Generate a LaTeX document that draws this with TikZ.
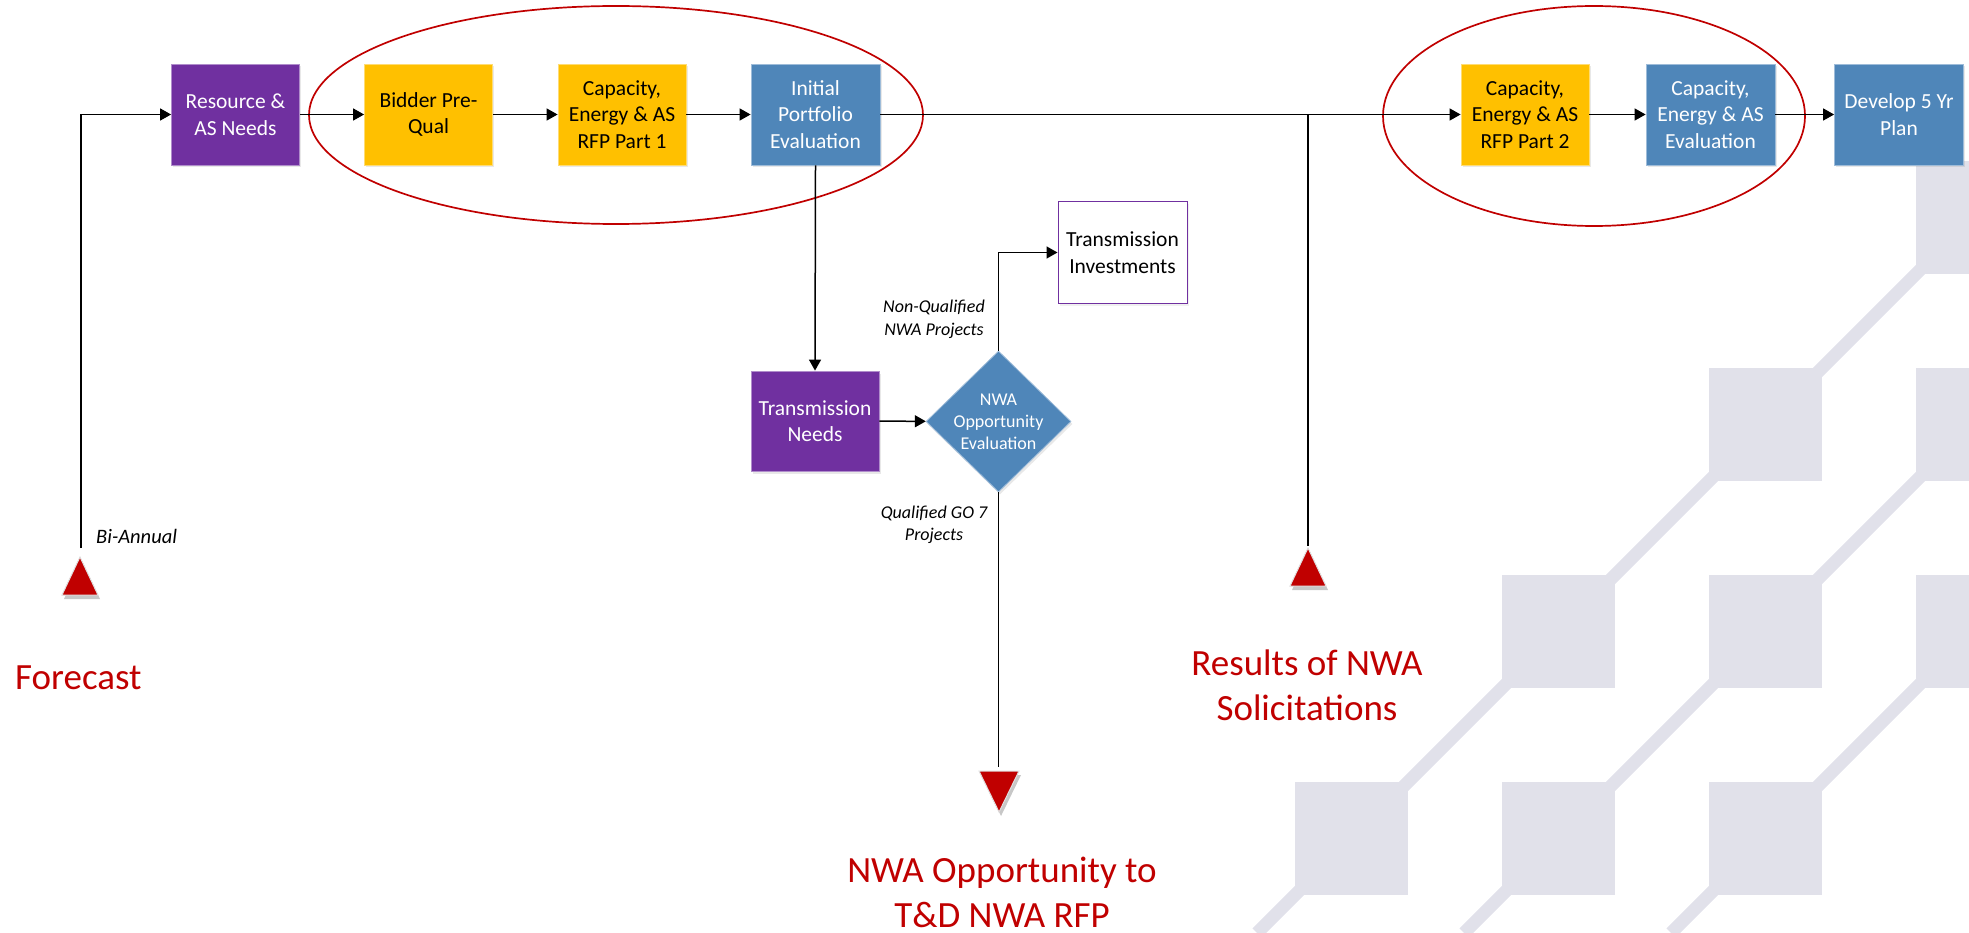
\documentclass[tikz,border=0pt]{standalone}
\usepackage{fontspec}
\setmainfont{Carlito}
\usetikzlibrary{arrows.meta,shapes.geometric,shadows}
\definecolor{cpurple}{HTML}{7030A0}
\definecolor{cyellow}{HTML}{FFC000}
\definecolor{cblue}{HTML}{4F86B9}
\definecolor{cred}{HTML}{C00000}
\definecolor{cbg}{HTML}{E1E1EA}
\begin{document}
\begin{tikzpicture}[x=1pt,y=-1pt,
  box/.style={rectangle, minimum width=128pt, minimum height=101pt, inner sep=0pt,
    align=center, font=\fontsize{21.5}{26.5}\selectfont, draw=#1!55!white, line width=0.8pt,
    fill=#1, drop shadow={opacity=0.18,shadow xshift=1.5pt,shadow yshift=-2.5pt}},
  pbox/.style={box=cpurple, text=white},
  ybox/.style={box=cyellow, text=black},
  bbox/.style={box=cblue, text=white},
  arr/.style={line width=1.5pt, -{Triangle[length=11pt,width=12pt]}},
  conn/.style={line width=1.5pt},
  lbl/.style={font=\fontsize{18}{22.5}\selectfont\itshape, inner sep=0pt, anchor=base},
  big/.style={font=\fontsize{37}{45}\selectfont, text=cred, inner sep=0pt, anchor=base},
  grp/.style={ellipse, draw=cred, line width=1.7pt, inner sep=0pt},
  marker/.style={fill=cred, draw=black!12, line width=1pt, line join=miter},
  mshadow/.style={fill=black, opacity=0.22},
  band/.style={draw=cbg, line width=13pt},
  sq/.style={fill=cbg}
]
\useasboundingbox (0,0) rectangle (1969,933);
% background pattern
\begin{scope}
  \clip (0,0) rectangle (1969,933);
  \draw[band] (2190,0) -- (1257,933);
  \draw[band] (2397,0) -- (1464,933);
  \draw[band] (2604,0) -- (1671,933);
  \foreach \c/\r in {3/0,2/1,3/1,1/2,2/2,3/2,0/3,1/3,2/3}{
    \fill[sq] ({1295+207*\c},{161+207*\r}) rectangle ++(113,113);
  }
\end{scope}

% group ellipses
\node[grp, minimum width=614pt, minimum height=218pt] (grp1) at (616,115) {};
\node[grp, minimum width=422pt, minimum height=220pt] (grp2) at (1594,116) {};

% top row
\node[pbox] (res) at (235.5,114.5) {Resource \&\\AS Needs};
\node[ybox] (bid) at (428.5,114.5) {Bidder Pre-\\Qual};
\node[ybox] (cap1) at (622,114.5) {Capacity,\\Energy \& AS\\RFP Part 1};
\node[bbox, minimum width=129pt] (init) at (815.5,114.5) {Initial\\Portfolio\\Evaluation};
\node[ybox] (cap2) at (1525,114.5) {Capacity,\\Energy \& AS\\RFP Part 2};
\node[bbox, minimum width=129pt] (eval) at (1710.5,114.5) {Capacity,\\Energy \& AS\\Evaluation};
\node[bbox, minimum width=129pt] (dev) at (1899,114.5) {Develop 5 Yr\\Plan};

% middle
\node[pbox, minimum height=100pt] (needs) at (815,421) {Transmission\\Needs};
\node[diamond, minimum width=145pt, minimum height=141pt, inner sep=0pt, fill=cblue,
  draw=cblue!55!white, line width=0.8pt,
  drop shadow={opacity=0.18,shadow xshift=1.5pt,shadow yshift=-2.5pt}] (dia) at (998.5,421.5) {};
\node[text=white, align=center, font=\fontsize{18}{22}\selectfont] (diatxt) at (dia.center) {NWA\\Opportunity\\Evaluation};
\node[rectangle, draw=cpurple, line width=1pt, fill=white, minimum width=129pt, minimum height=101pt,
  inner sep=0pt, align=center, font=\fontsize{21.5}{26.5}\selectfont,
  drop shadow={opacity=0.12,shadow xshift=1.5pt,shadow yshift=-2.5pt}] (inv) at (1122.5,252.5) {Transmission\\Investments};

% labels
\node[lbl] (nq1) at (934,312.7) {Non-Qualified};
\node[lbl] (nq2) at (934,335) {NWA Projects};
\node[lbl] (q1) at (934,518) {Qualified GO 7};
\node[lbl] (q2) at (934,540) {Projects};
\node[lbl, anchor=base west, font=\fontsize{20.5}{24}\selectfont\itshape] (bia) at (96,543) {Bi-Annual};

% markers
\fill[mshadow] (64,599) -- (100,599) -- (82,561) -- cycle;
\draw[marker] (62,595) -- (98,595) -- (80,557) -- cycle;
\fill[mshadow] (1292,590) -- (1328,590) -- (1310,552) -- cycle;
\draw[marker] (1290,586) -- (1326,586) -- (1308,548) -- cycle;
\fill[mshadow] (981,775) -- (1021,775) -- (1001,816) -- cycle;
\draw[marker] (979,771) -- (1019,771) -- (999,812) -- cycle;
\coordinate (fc) at (81,548);
\coordinate (rc) at (1308,546);
\coordinate (nc) at (998.5,767);

% big red texts
\node[big, anchor=base west] (fct) at (15,689) {Forecast};
\node[big] (res1) at (1307,675) {Results of NWA};
\node[big] (res2) at (1307,720) {Solicitations};
\node[big] (nwa1) at (1002,882) {NWA Opportunity to};
\node[big] (nwa2) at (1002,927) {T\&D NWA RFP};

% connectors
\draw[arr] (fc) |- (res.west);
\draw[arr] (res) -- (bid);
\draw[arr] (bid) -- (cap1);
\draw[arr] (cap1) -- (init);
\draw[arr] (init) -- (cap2);
\draw[conn] (rc) -- (rc |- init.east);
\draw[arr] (cap2) -- (eval);
\draw[arr] (eval) -- (dev);
\draw[arr] (init.south) -- (needs.north);
\draw[arr] (needs) -- (dia);
\draw[arr] (dia.north) |- (inv.west);
\draw[conn] (dia.south) -- (nc);
\end{tikzpicture}
\end{document}
